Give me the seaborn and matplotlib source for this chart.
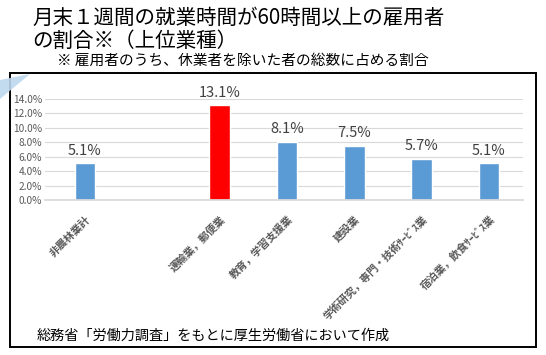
import matplotlib
matplotlib.use("Agg")
import matplotlib.pyplot as plt
import seaborn as sns
import numpy as np
from matplotlib.patches import Rectangle, Polygon

sns.set_theme(style="white")
plt.rcParams['font.family'] = ['Noto Sans CJK JP', 'DejaVu Sans']

# data
order = ["非農林業計", " ", "運輸業，郵便業", "教育，学習支援業", "建設業",
         "学術研究，専門・技術ｻｰﾋﾞｽ業", "宿泊業，飲食ｻｰﾋﾞｽ業"]
categories = ["非農林業計", "運輸業，郵便業", "教育，学習支援業", "建設業",
              "学術研究，専門・技術ｻｰﾋﾞｽ業", "宿泊業，飲食ｻｰﾋﾞｽ業"]
values = [5.1, 13.1, 8.1, 7.5, 5.7, 5.1]
colors = ["#5B9BD5", "#FF0000", "#5B9BD5", "#5B9BD5", "#5B9BD5", "#5B9BD5"]
yticks = [0, 2, 4, 6, 8, 10, 12, 14]

W, H = 546, 355
fig = plt.figure(figsize=(W / 100, H / 100), dpi=100)

def fx(px):
    return px / W

def fy(py):
    return 1 - py / H

# frame box
fig.patches.append(Rectangle((fx(10), fy(347)), fx(536) - fx(10), fy(73) - fy(347),
                             transform=fig.transFigure, fill=False, ec="black", lw=1.4))
# decorative wedge
fig.patches.append(Polygon([(fx(0), fy(80)), (fx(30), fy(74)), (fx(0), fy(99))],
                           closed=True, transform=fig.transFigure,
                           fc="#BDD7EE", ec="none", alpha=0.9))

ax = fig.add_axes([fx(45), fy(200), fx(523) - fx(45), fy(99) - fy(200)])
sns.barplot(x=categories, y=values, order=order, hue=categories, hue_order=categories,
            palette=colors, width=0.31, legend=False, ax=ax, saturation=1)

ax.set_ylim(0, 14)
ax.set_xlim(-0.594, 6.505)
ax.set_yticks(yticks)
ax.set_yticklabels([f"{v:.1f}%" for v in yticks], fontsize=7.3, color="#595959")
ax.yaxis.grid(True, color="#D9D9D9", lw=0.8)
ax.set_axisbelow(True)
for s in ax.spines.values():
    s.set_visible(False)
ax.spines['bottom'].set_visible(True)
ax.spines['bottom'].set_color("#D9D9D9")
ax.tick_params(axis='both', length=0, pad=2)
ax.tick_params(axis='x', pad=10)
ax.set_xlabel("")
ax.set_ylabel("")

labels = ax.get_xticklabels()
for lab in labels:
    lab.set_rotation(45)
    lab.set_ha("right")
    lab.set_va("top")
    lab.set_rotation_mode("anchor")
    lab.set_fontsize(7.6)
    lab.set_fontweight("bold")
    lab.set_color("#595959")

for c in ax.containers:
    ax.bar_label(c, labels=[f"{v:.1f}%" for v in c.datavalues], padding=4,
                 fontsize=10.5, color="#404040")

fig.text(fx(32), fy(18), "月末１週間の就業時間が60時間以上の雇用者", fontsize=14.8,
         va="center", ha="left", color="black")
fig.text(fx(32), fy(41), "の割合※（上位業種）", fontsize=14.8, va="center", ha="left", color="black")
fig.text(fx(57), fy(61), "※ 雇用者のうち、休業者を除いた者の総数に占める割合", fontsize=10.6,
         va="center", ha="left", color="black")
fig.text(fx(37), fy(336), "総務省「労働力調査」をもとに厚生労働省において作成", fontsize=10.2,
         va="center", ha="left", color="black")

fig.savefig("out.png", dpi=100)
